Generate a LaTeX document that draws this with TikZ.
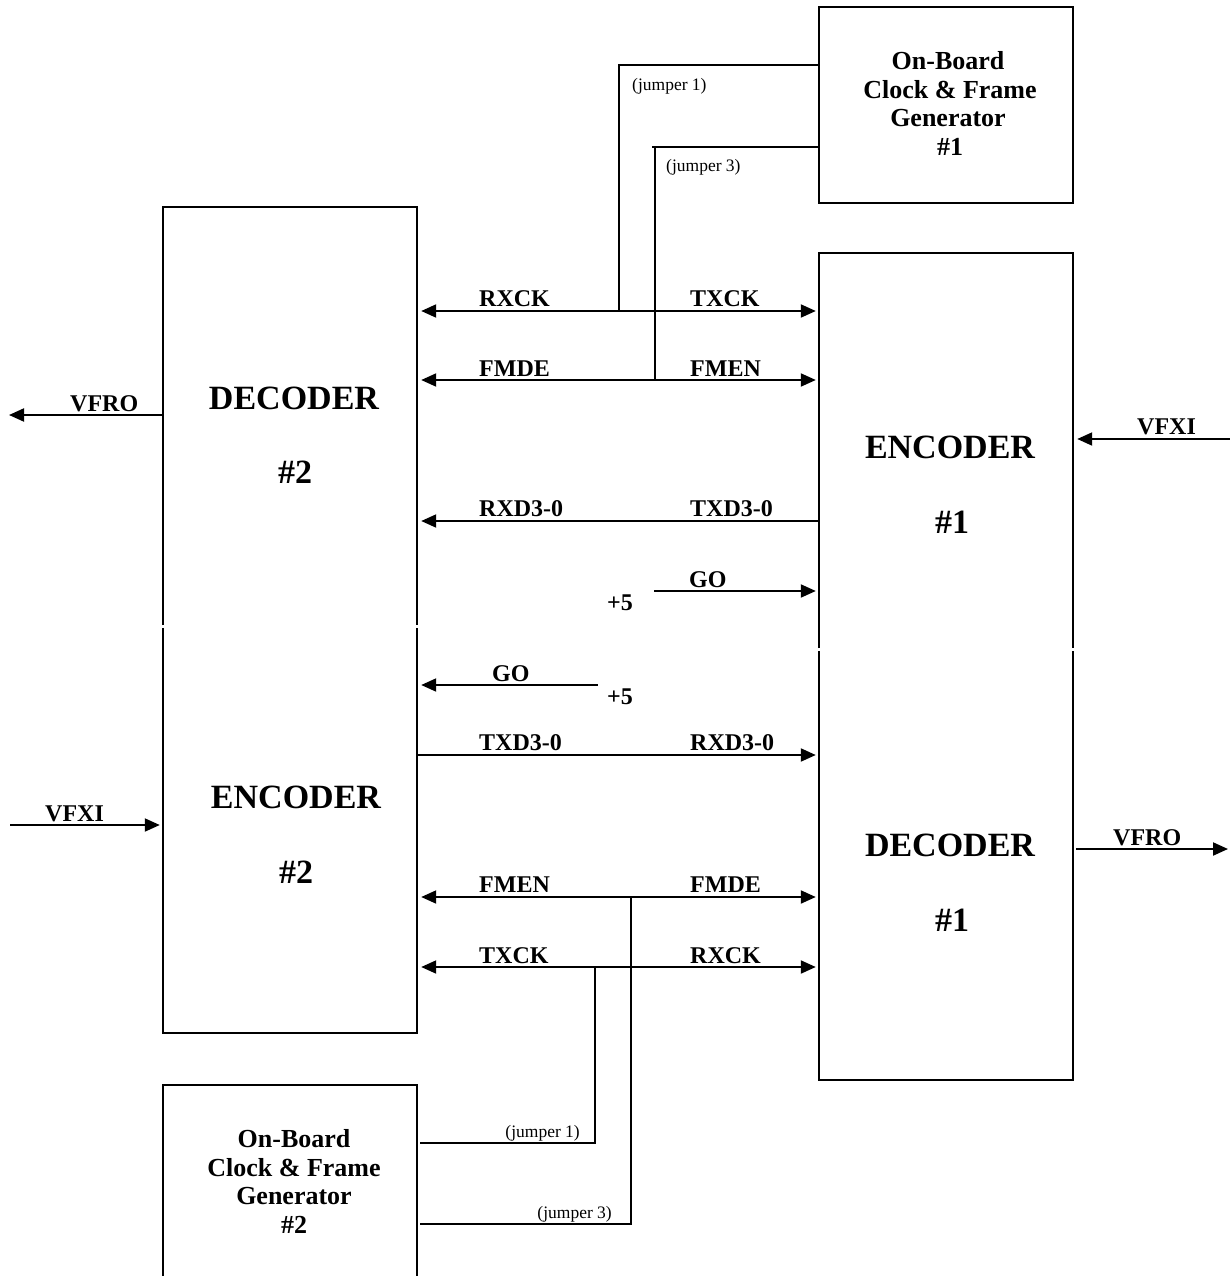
\documentclass[tikz,border=0pt]{standalone}
\usepackage{fontspec}
\setmainfont{Liberation Serif}
\usetikzlibrary{arrows.meta}
\begin{document}
\begin{tikzpicture}[x=1pt,y=-1pt,
  blk/.style={draw,line width=2pt,inner sep=0pt,minimum width=254pt},
  openblk/.style={inner sep=0pt,minimum width=254pt},
  wire/.style={line width=2pt},
  ra/.style={wire,-{Triangle[length=15pt,width=13pt]},shorten >=3pt},
  la/.style={wire,{Triangle[length=15pt,width=13pt]}-,shorten <=4pt},
  ba/.style={wire,{Triangle[length=15pt,width=13pt]}-{Triangle[length=15pt,width=13pt]},shorten <=4pt,shorten >=3pt},
  ttl/.style={inner sep=0pt,anchor=base,font=\fontsize{34}{40}\selectfont\bfseries},
  lbl/.style={inner sep=0pt,font=\fontsize{24}{28}\selectfont\bfseries},
  clk/.style={inner sep=0pt,anchor=base,font=\fontsize{26}{28}\selectfont\bfseries},
  jmp/.style={inner sep=0pt,font=\fontsize{17.5}{20}\selectfont},
]
\useasboundingbox (0,0) rectangle (1230,1276);
% boxes
\node[blk,minimum height=196pt] (clk1) at (946,105) {};
\node[openblk,minimum height=205pt] (clk2) at (290,1187.5) {};
\draw[wire] (clk2.south west) -- (clk2.north west) -- (clk2.north east) -- (clk2.south east);
\node[openblk,minimum height=418pt] (dec2) at (290,416) {};
\draw[wire] (dec2.south west) -- (dec2.north west) -- (dec2.north east) -- (dec2.south east);
\node[openblk,minimum height=405pt] (enc2) at (290,830.5) {};
\draw[wire] (enc2.north west) -- (enc2.south west) -- (enc2.south east) -- (enc2.north east);
\node[openblk,minimum height=395pt] (enc1) at (946,450.5) {};
\draw[wire] (enc1.south west) -- (enc1.north west) -- (enc1.north east) -- (enc1.south east);
\node[openblk,minimum height=429pt] (dec1) at (946,865.5) {};
\draw[wire] (dec1.north west) -- (dec1.south west) -- (dec1.south east) -- (dec1.north east);

% titles
\node[ttl] (t1) at (294,409) {DECODER};
\node[ttl] (t2) at (295,483) {\#2};
\node[ttl] (t3) at (950,458) {ENCODER};
\node[ttl] (t4) at (952,533) {\#1};
\node[ttl] (t5) at (296,808) {ENCODER};
\node[ttl] (t6) at (296,883) {\#2};
\node[ttl] (t7) at (950,856) {DECODER};
\node[ttl] (t8) at (952,931) {\#1};

% clock texts
\node[clk] (c1) at (948,70) {On-Board};
\node[clk] (c2) at (950,99) {Clock \& Frame};
\node[clk] (c3) at (948,127) {Generator};
\node[clk] (c4) at (950,156) {\#1};
\node[clk] (c5) at (294,1147) {On-Board};
\node[clk] (c6) at (294,1176) {Clock \& Frame};
\node[clk] (c7) at (294,1204) {Generator};
\node[clk] (c8) at (294,1233) {\#2};

% coordinates
\coordinate (j1a) at (619,311);
\coordinate (j3a) at (655,380);
\coordinate (j3b) at (631,897);
\coordinate (j1b) at (595,967);
\coordinate (go1) at (654,591);
\coordinate (go2) at (598,685);
\coordinate (vfroL) at (9,415);
\coordinate (vfxiL) at (10,825);
\coordinate (vfxiR) at (1230,439);
\coordinate (vfroR) at (1228,849);

% top connectors
\draw[ba] (dec2.east |- j1a) -- (enc1.west |- j1a);
\draw[ba] (dec2.east |- j3a) -- (enc1.west |- j3a);
\draw[wire] (j1a) |- (clk1.west |- 0,65);
\draw[wire] (j3a) -- (655,147) -- (clk1.west |- 0,147);
\draw[wire] (652,147) -- (655,147);
\draw[la] (dec2.east |- 0,521) -- (enc1.west |- 0,521);
\draw[ra] (go1) -- (enc1.west |- go1);
\draw[la] (dec2.east |- go2) -- (go2);
\draw[ra] (enc2.east |- 0,755) -- (dec1.west |- 0,755);
\draw[ba] (enc2.east |- j3b) -- (dec1.west |- j3b);
\draw[ba] (enc2.east |- j1b) -- (dec1.west |- j1b);
\draw[wire] (j3b) |- ([xshift=3pt]clk2.east |- 0,1224);
\draw[wire] (j1b) |- ([xshift=3pt]clk2.east |- 0,1143);
% external
\draw[wire,-{Triangle[length=15pt,width=13pt]}] (dec2.west |- vfroL) -- (vfroL);
\draw[ra] (vfxiL) -- (enc2.west |- vfxiL);
\draw[la] (enc1.east |- vfxiR) -- (vfxiR);
\draw[wire,-{Triangle[length=15pt,width=13pt]}] ([xshift=3pt]dec1.east |- vfroR) -- (vfroR);

% labels
\node[lbl,anchor=base west] (l1) at (479,306) {RXCK};
\node[lbl,anchor=base west] (l2) at (690,306) {TXCK};
\node[lbl,anchor=base west] (l3) at (479,376) {FMDE};
\node[lbl,anchor=base west] (l4) at (690,376) {FMEN};
\node[lbl,anchor=base west] (l5) at (479,516) {RXD3-0};
\node[lbl,anchor=base west] (l6) at (690,516) {TXD3-0};
\node[lbl,anchor=base west] (l7) at (689,587) {GO};
\node[lbl,anchor=base west] (l8) at (607,610) {+5};
\node[lbl,anchor=base west] (l9) at (492,681) {GO};
\node[lbl,anchor=base west] (l10) at (607,704) {+5};
\node[lbl,anchor=base west] (l11) at (479,750) {TXD3-0};
\node[lbl,anchor=base west] (l12) at (690,750) {RXD3-0};
\node[lbl,anchor=base west] (l13) at (479,892) {FMEN};
\node[lbl,anchor=base west] (l14) at (690,892) {FMDE};
\node[lbl,anchor=base west] (l15) at (479,963) {TXCK};
\node[lbl,anchor=base west] (l16) at (690,963) {RXCK};
\node[lbl,anchor=base west] (l17) at (70,411) {VFRO};
\node[lbl,anchor=base west] (l18) at (45,821) {VFXI};
\node[lbl,anchor=base west] (l19) at (1137,434) {VFXI};
\node[lbl,anchor=base west] (l20) at (1113,845) {VFRO};

% jumper labels
\node[jmp,anchor=base west] (jl1) at (632,91) {(jumper 1)};
\node[jmp,anchor=base west] (jl2) at (666,172) {(jumper 3)};
\node[jmp,anchor=base east] (jl3) at (580,1137) {(jumper 1)};
\node[jmp,anchor=base east] (jl4) at (612,1218) {(jumper 3)};
\end{tikzpicture}
\end{document}
